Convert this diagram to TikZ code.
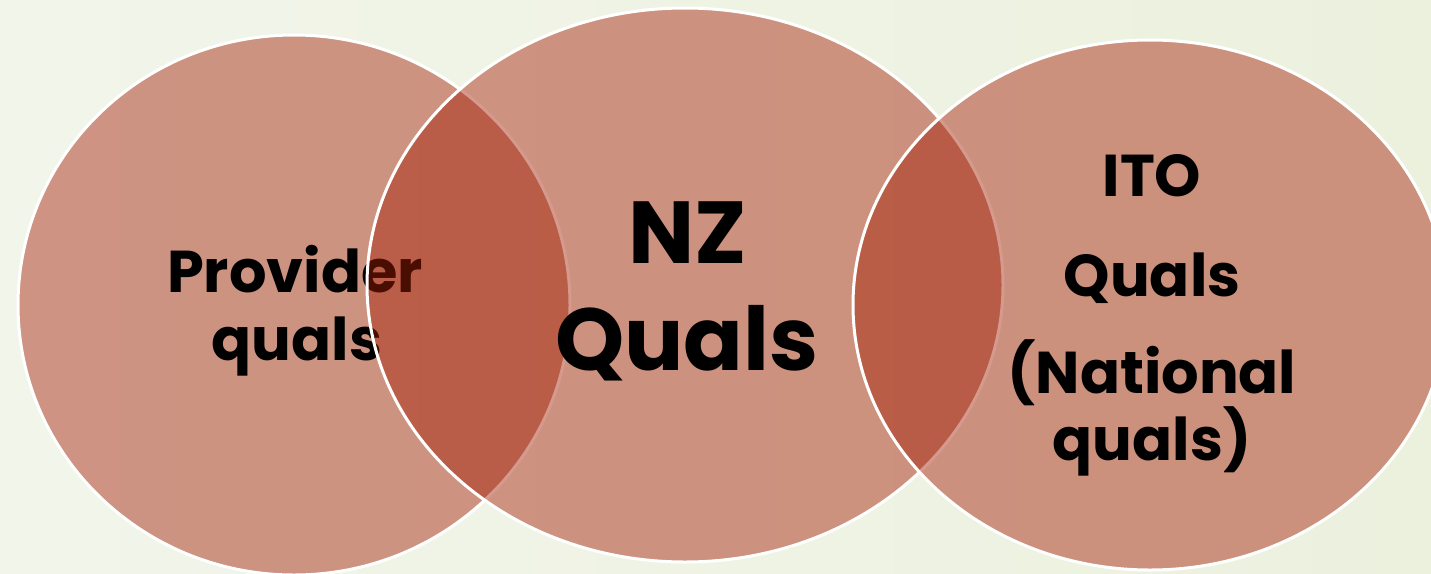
\documentclass[tikz,border=0pt]{standalone}
\usepackage{fontspec}
\setmainfont{Poppins}
\usepackage{tikz}
\usetikzlibrary{shapes.geometric}

\definecolor{qualred}{RGB}{163,29,5}
\definecolor{bgleft}{RGB}{242,245,234}
\definecolor{bgmid}{RGB}{253,253,251}
\definecolor{bgright}{RGB}{236,241,222}

\tikzset{
  qualset/.style={fill=qualred,fill opacity=0.45,draw=white,line width=3pt},
  quallabel/.style={anchor=base,inner sep=0pt,text=black,font=\bfseries\fontsize{#1}{#1}\selectfont}
}

\begin{document}
\begin{tikzpicture}[x=1pt,y=-1pt] % one unit = one pixel of the slide
        % slide background
        \shade[left color=bgleft,middle color=bgmid,right color=bgright] (0,0) rectangle (1431,573);
        \useasboundingbox (0,0) rectangle (1431,573);
        \clip (0,0) rectangle (1431,573);
        % Provider quals
        \draw[qualset] (294,305) ellipse [x radius=276,y radius=270];
        \node[quallabel=59] (prov1) at (295,292) {Provider};
        \node[quallabel=59] (prov2) at (297,360) {quals};
        % NZ Quals
        \draw[qualset] (685,285) ellipse [x radius=318,y radius=277];
        \node[quallabel=88] (nz1) at (688,263) {NZ};
        \node[quallabel=88] (nz2) at (687,370) {Quals};
        % ITO Quals
        \draw[qualset] (1150,305) ellipse [x radius=297,y radius=265];
        \node[quallabel=59] (ito1) at (1152,196) {ITO};
        \node[quallabel=59] (ito2) at (1152,296) {Quals};
        \node[quallabel=59] (ito3) at (1152,393) {(National};
        \node[quallabel=59] (ito4) at (1152,460) {quals)};
\end{tikzpicture}
\end{document}
